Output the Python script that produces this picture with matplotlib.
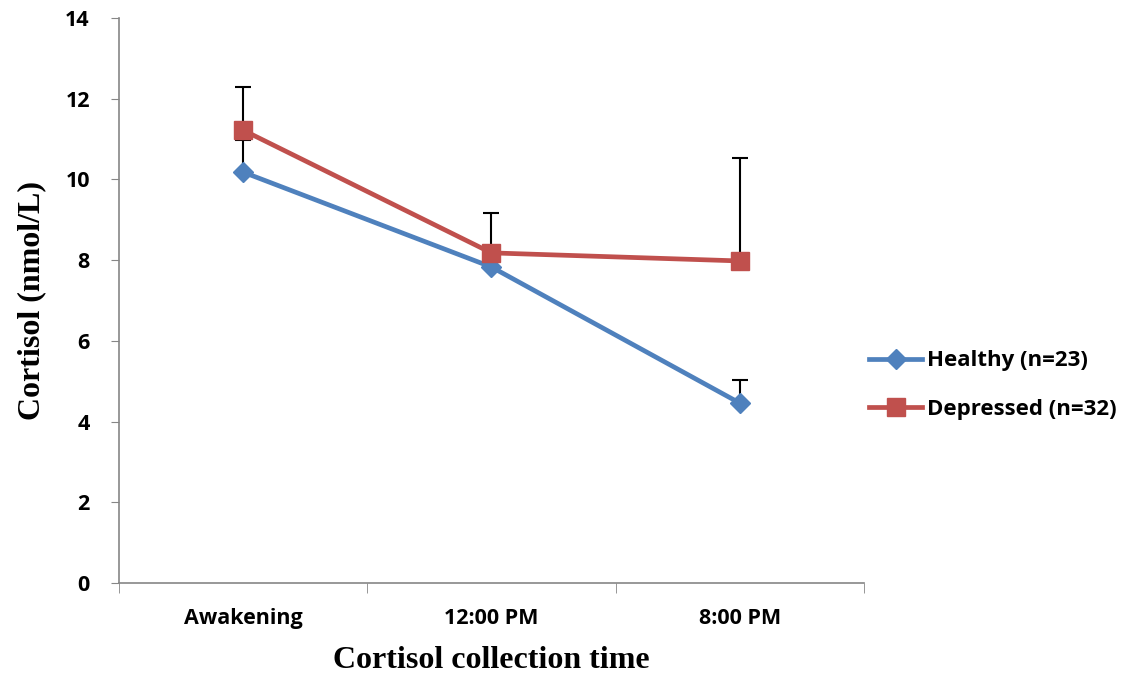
import numpy as np
import matplotlib.pyplot as plt

times = ['Awakening', '12:00 PM', '8:00 PM']
healthy = [10.18, 7.83, 4.46]
healthy_err = [0.80, 0.30, 0.57]
depressed = [11.22, 8.18, 7.98]
depressed_err = [1.07, 0.99, 2.55]

blue = '#4F81BD'
red = '#C0504D'
axis_col = '#868686'

fig = plt.figure(figsize=(11.38, 6.82), dpi=100)
ax = fig.add_axes([0.1046, 0.1452, 0.6544, 0.8284])
x = np.arange(len(times))

# upper error bars only, drawn under the lines
ax.errorbar(x, healthy, yerr=[np.zeros(3), healthy_err], fmt='none',
            ecolor='black', elinewidth=1.5, capsize=6, capthick=1.5, zorder=1)
ax.errorbar(x, depressed, yerr=[np.zeros(3), depressed_err], fmt='none',
            ecolor='black', elinewidth=1.5, capsize=6, capthick=1.5, zorder=1)

ax.plot(x, healthy, color=blue, lw=3.4, marker='D', ms=10, mec=blue,
        label='Healthy (n=23)', zorder=2)
ax.plot(x, depressed, color=red, lw=3.4, marker='s', ms=13, mec=red,
        label='Depressed (n=32)', zorder=3)

ax.set_xlim(-0.5, 2.5)
ax.set_ylim(0, 14)
ax.set_yticks(range(0, 15, 2))
ax.set_xticks(x)
ax.set_xticklabels(times)
ax.set_xticks([-0.5, 0.5, 1.5, 2.5], minor=True)
ax.tick_params(axis='x', which='major', length=0, pad=18)
ax.tick_params(axis='x', which='minor', length=7, color=axis_col, direction='out')
ax.tick_params(axis='y', length=6, color=axis_col, direction='out', pad=15)
for lab in ax.get_xticklabels() + ax.get_yticklabels():
    lab.set_fontfamily('Open Sans')
    lab.set_fontweight('bold')
    lab.set_fontsize(15.5)

for s in ['top', 'right']:
    ax.spines[s].set_visible(False)
for s in ['left', 'bottom']:
    ax.spines[s].set_color(axis_col)
    ax.spines[s].set_linewidth(1.2)

ax.set_ylabel('Cortisol (nmol/L)', fontfamily='Liberation Serif',
              fontweight='bold', fontsize=23, labelpad=14)
ax.set_xlabel('Cortisol collection time', fontfamily='Liberation Serif',
              fontweight='bold', fontsize=23, labelpad=12)

fig.legend(loc='center left', bbox_to_anchor=(0.746, 0.435), frameon=False,
           prop={'family': 'Open Sans', 'weight': 'bold', 'size': 16},
           handlelength=2.4, labelspacing=1.25, handletextpad=0.2)

fig.savefig('out.png', dpi=100)
